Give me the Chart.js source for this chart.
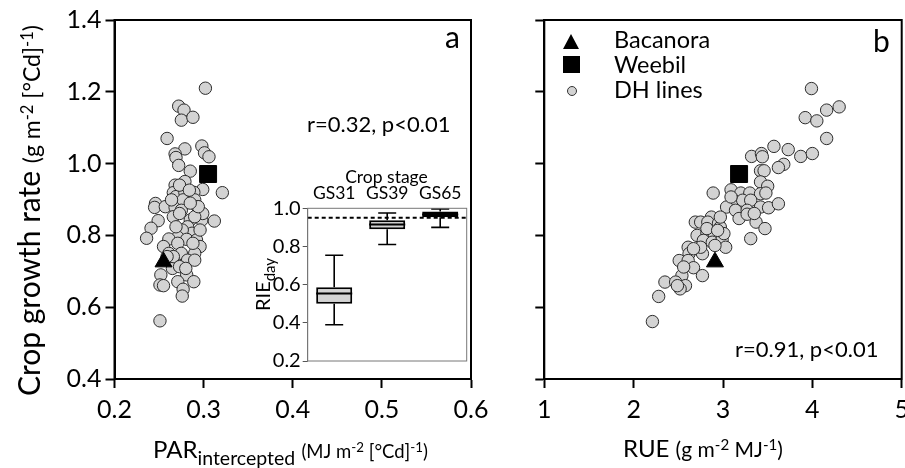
<!DOCTYPE html>
<html><head><meta charset="utf-8">
<script src="https://cdn.jsdelivr.net/npm/chart.js@4.4.1/dist/chart.umd.min.js"></script>
<style>
html,body{margin:0;padding:0;background:#fff;width:905px;height:468px;overflow:hidden;font-family:Lato,sans-serif;color:#000;position:relative;}
canvas{position:absolute;}
.t{position:absolute;white-space:nowrap;line-height:1;}
.t span{line-height:1;}
.sup{position:relative;top:-0.45em;font-size:0.72em;}
.tri{position:absolute;width:0;height:0;border-left:8.5px solid transparent;border-right:8.5px solid transparent;border-bottom:15px solid #000;}
.sq{position:absolute;width:17px;height:17px;background:#000;}
.dot{position:absolute;width:8px;height:8px;border-radius:50%;background:#d3d3d3;border:1px solid #333;}
</style></head><body>
<canvas id="ca" width="500" height="468" style="left:0;top:0"></canvas>
<canvas id="cb" width="440" height="468" style="left:480px;top:0"></canvas>
<canvas id="ci" width="230" height="215" style="left:250px;top:160px"></canvas>

<div class="t" style="left:13px;top:396px;transform:rotate(-90deg);transform-origin:0 0;font-size:30px;"><span style="font-size:30px">Crop growth rate</span> <span style="font-size:23px">(g m<span class="sup">-2</span> [°Cd]<span class="sup">-1</span>)</span></div>

<div class="t" style="left:153px;top:437px;font-size:24px;"><span>PAR</span><span style="font-size:19.5px;position:relative;top:7px">intercepted</span> <span style="font-size:18.5px">(MJ m<span class="sup">-2</span> [°Cd]<span class="sup">-1</span>)</span></div>
<div class="t" style="left:623px;top:436px;font-size:24px;"><span>RUE</span> <span style="font-size:21px">(g m<span class="sup">-2</span> MJ<span class="sup">-1</span>)</span></div>

<div class="t" style="left:445px;top:21.4px;font-size:30px;">a</div>
<div class="t" style="left:873px;top:25.4px;font-size:30px;">b</div>
<div class="t" style="left:307px;top:112.5px;font-size:22px;">r=0.32, p&lt;0.01</div>
<div class="t" style="left:735px;top:337.5px;font-size:22px;">r=0.91, p&lt;0.01</div>

<div class="tri" style="left:563px;top:34px;"></div>
<div class="sq" style="left:563px;top:56px;"></div>
<div class="dot" style="left:567px;top:85.5px;"></div>
<div class="t" style="left:614px;top:28px;font-size:23.5px;">Bacanora</div>
<div class="t" style="left:614px;top:52.6px;font-size:23.5px;">Weebil</div>
<div class="t" style="left:614px;top:77.6px;font-size:23.5px;">DH lines</div>

<div class="t" style="left:386.5px;top:167.5px;font-size:17.5px;transform:translateX(-50%);">Crop stage</div>
<div class="t" style="left:252px;top:311px;transform:rotate(-90deg);transform-origin:0 0;font-size:20px;"><span>RIE</span><span style="font-size:15px;position:relative;top:5px">day</span></div>

<script>
// ---- Panel a: PAR intercepted vs crop growth rate (DH lines)
const parIntercepted = [0.302,0.272,0.278,0.275,0.288,0.259,0.279,0.268,0.269,0.272,0.285,0.298,0.301,0.306,
  0.321,0.299,0.279,0.268,0.266,0.269,0.279,0.289,0.290,0.246,0.245,0.257,0.268,0.277,0.275,0.293,0.266,0.285,
  0.298,0.299,0.312,0.249,0.241,0.236,0.282,0.287,0.276,0.271,0.281,0.292,0.296,0.261,0.255,0.271,0.275,0.290,
  0.282,0.290,0.261,0.266,0.265,0.252,0.281,0.271,0.289,0.251,0.255,0.277,0.276,0.251,
  0.273,0.284,0.264,0.273,0.290,0.296,0.288,0.266,0.273,0.294,0.259,0.280,0.285,0.269];
const cgrA = [1.210,1.160,1.149,1.121,1.129,1.070,1.041,1.027,1.017,0.995,0.979,1.049,1.030,1.019,
  0.919,0.928,0.950,0.940,0.919,0.908,0.919,0.920,0.899,0.889,0.878,0.880,0.878,0.899,0.870,0.880,0.852,0.843,
  0.843,0.861,0.840,0.841,0.820,0.792,0.824,0.806,0.815,0.795,0.789,0.787,0.769,0.790,0.769,0.778,0.750,0.750,
  0.731,0.731,0.750,0.722,0.708,0.690,0.690,0.671,0.671,0.662,0.660,0.650,0.631,0.562,
  0.940,0.926,0.899,0.861,0.852,0.815,0.778,0.741,0.713,0.880,0.741,0.708,0.890,0.824];
const bacanoraPar = [0.255];
const weebilPar = [0.305];

// ---- Panel b: RUE vs crop growth rate (DH lines)
const rue = [3.99,4.30,4.16,3.92,4.05,4.16,3.57,3.73,3.87,4.00,3.32,3.43,3.44,3.68,3.62,3.42,3.46,
  3.42,3.50,2.89,3.09,3.20,3.30,3.42,3.48,3.12,3.22,3.31,3.04,3.14,3.27,3.42,3.51,3.62,3.18,3.27,3.37,3.47,3.31,
  2.87,2.69,2.75,2.83,2.95,2.97,2.71,2.82,2.90,2.78,2.88,2.99,3.03,2.91,2.61,2.62,2.77,2.51,2.61,2.67,2.77,
  2.54,2.35,2.47,2.58,2.52,2.28,2.21,
  2.97,2.82,2.75,2.56,2.49,3.09,3.35,3.01,2.67,2.94];
const cgrB = [1.209,1.158,1.149,1.128,1.119,1.070,1.048,1.039,1.020,1.028,1.020,1.028,1.019,0.998,0.989,0.980,0.980,
  0.949,0.937,0.918,0.927,0.918,0.918,0.916,0.918,0.898,0.898,0.898,0.879,0.870,0.870,0.879,0.877,0.888,0.847,0.859,0.837,0.819,0.791,
  0.851,0.837,0.837,0.837,0.834,0.823,0.800,0.807,0.805,0.786,0.781,0.788,0.767,0.772,0.767,0.749,0.749,0.730,0.730,0.710,0.688,
  0.688,0.670,0.670,0.660,0.651,0.630,0.560,
  0.851,0.819,0.767,0.712,0.660,0.907,0.861,0.805,0.763,0.814];
const bacanoraRue = [2.91];
const weebilRue = [3.18];
const bacanoraCgr = [0.726];
const weebilCgr = [0.971];

// ---- Inset: RIE_day by crop stage (box plots)
const stages = ['GS31','GS39','GS65'];
const rieMin = [0.39,0.81,0.90];
const rieQ1 = [0.50,0.89,0.953];
const rieMedian = [0.554,0.915,0.968];
const rieQ3 = [0.586,0.938,0.983];
const rieMax = [0.754,0.975,0.997];
const rieThreshold = 0.95;

const xTicksA = [0.2,0.3,0.4,0.5,0.6];
const xTicksB = [1,2,3,4,5];
const yTicks = [0.4,0.6,0.8,1.0,1.2,1.4];

Chart.defaults.font.family = 'Lato';
Chart.defaults.color = '#000';

const framePlugin = {
  id: 'frame',
  afterDraw(chart, args, opts) {
    const {ctx, chartArea: a} = chart;
    ctx.save();
    ctx.strokeStyle = opts.color || '#000';
    ctx.lineWidth = opts.width || 2;
    ctx.strokeRect(a.left, a.top, a.right - a.left, a.bottom - a.top);
    ctx.restore();
  }
};

function pts(xs, ys) { return xs.map((x, i) => ({x: x, y: ys[i]})); }

function scatterConfig(dhX, dhY, bX, wX, xMin, xMax, xTicks, yW, padR, showYLabels, fmtX) {
  return {
    type: 'scatter',
    data: {
      datasets: [
        {label: 'Bacanora', data: pts(bX, bacanoraCgr), pointStyle: 'triangle', pointRadius: 9.8,
          backgroundColor: '#000', borderColor: '#000', borderWidth: 1},
        {label: 'Weebil', data: pts(wX, weebilCgr), pointStyle: 'rect', pointRadius: 12,
          backgroundColor: '#000', borderColor: '#000', borderWidth: 1},
        {label: 'DH lines', data: pts(dhX, dhY), pointStyle: 'circle', pointRadius: 6.2,
          backgroundColor: '#d3d3d3', borderColor: '#2b2b2b', borderWidth: 1}
      ]
    },
    plugins: [framePlugin],
    options: {
      responsive: false, animation: false, events: [],
      layout: {padding: {left: 0, top: 20, right: padR, bottom: 0}},
      plugins: {legend: {display: false}, tooltip: {enabled: false}, frame: {color: '#000', width: 2}},
      scales: {
        x: {
          type: 'linear', min: xMin, max: xMax,
          afterBuildTicks: s => { s.ticks = xTicks.map(v => ({value: v})); },
          ticks: {callback: fmtX, font: {size: 25}, color: '#000', padding: 7, maxRotation: 0, autoSkip: false},
          grid: {drawOnChartArea: false, tickLength: 9, tickWidth: 2, tickColor: '#000'},
          border: {color: '#000', width: 2},
          afterFit: s => { s.height = 89; }
        },
        y: {
          type: 'linear', min: 0.4, max: 1.4,
          afterBuildTicks: s => { s.ticks = yTicks.map(v => ({value: v})); },
          ticks: {display: showYLabels, callback: v => v.toFixed(1), font: {size: 25}, color: '#000', padding: 4},
          grid: {drawOnChartArea: false, tickLength: 9, tickWidth: 2, tickColor: '#000'},
          border: {color: '#000', width: 2},
          afterFit: s => { s.width = yW; }
        }
      }
    }
  };
}

new Chart(document.getElementById('ca'),
  scatterConfig(parIntercepted, cgrA, bacanoraPar, weebilPar, 0.2, 0.6, xTicksA, 114.5, 29, true, v => v.toFixed(1)));
new Chart(document.getElementById('cb'),
  scatterConfig(rue, cgrB, bacanoraRue, weebilRue, 1, 5, xTicksB, 64.3, 18.3, false, v => String(v)));

const boxPlugin = {
  id: 'boxWhiskers',
  afterDatasetsDraw(chart) {
    const ctx = chart.ctx, xs = chart.scales.x, ys = chart.scales.y;
    const meta = chart.getDatasetMeta(0);
    const a = chart.chartArea;
    ctx.save();
    ctx.strokeStyle = '#000';
    stages.forEach((s, i) => {
      const x = xs.getPixelForValue(i);
      const w = meta.data[i].width;
      const cap = 18;
      const yMax = ys.getPixelForValue(rieMax[i]), yMin = ys.getPixelForValue(rieMin[i]);
      ctx.lineWidth = 1.6;
      ctx.beginPath();
      ctx.moveTo(x, ys.getPixelForValue(rieQ3[i])); ctx.lineTo(x, yMax);
      ctx.moveTo(x - cap / 2, yMax); ctx.lineTo(x + cap / 2, yMax);
      ctx.moveTo(x, ys.getPixelForValue(rieQ1[i])); ctx.lineTo(x, yMin);
      ctx.moveTo(x - cap / 2, yMin); ctx.lineTo(x + cap / 2, yMin);
      ctx.stroke();
      ctx.lineWidth = 2;
      ctx.beginPath();
      const ym = ys.getPixelForValue(rieMedian[i]);
      ctx.moveTo(x - w / 2, ym); ctx.lineTo(x + w / 2, ym);
      ctx.stroke();
    });
    const yt = ys.getPixelForValue(rieThreshold);
    ctx.setLineDash([4, 3]);
    ctx.lineWidth = 2;
    ctx.beginPath();
    ctx.moveTo(a.left, yt); ctx.lineTo(a.right, yt);
    ctx.stroke();
    ctx.restore();
  }
};

new Chart(document.getElementById('ci'), {
  type: 'bar',
  data: {
    labels: stages,
    datasets: [{
      data: stages.map((s, i) => [rieQ1[i], rieQ3[i]]),
      backgroundColor: '#d3d3d3', borderColor: '#000', borderWidth: [2, 2, 3], borderSkipped: false,
      barPercentage: 0.68, categoryPercentage: 1
    }]
  },
  plugins: [framePlugin, boxPlugin],
  options: {
    responsive: false, animation: false, events: [],
    layout: {padding: {left: 0, top: 0, right: 13.3, bottom: 7.7}},
    plugins: {legend: {display: false}, tooltip: {enabled: false}, frame: {color: '#777', width: 1}},
    scales: {
      x: {
        position: 'top',
        grid: {display: false, drawTicks: false},
        border: {display: false},
        ticks: {font: {size: 17.5}, color: '#000', padding: 4},
        afterFit: s => { s.height = 48.3; }
      },
      y: {
        min: 0.2, max: 1.0,
        ticks: {stepSize: 0.2, callback: v => v.toFixed(1), font: {size: 20}, color: '#000', padding: 2},
        grid: {drawOnChartArea: false, tickLength: 5, tickWidth: 1, tickColor: '#555'},
        border: {color: '#777', width: 1},
        afterFit: s => { s.width = 57.7; }
      }
    }
  }
});
</script>
</body></html>
